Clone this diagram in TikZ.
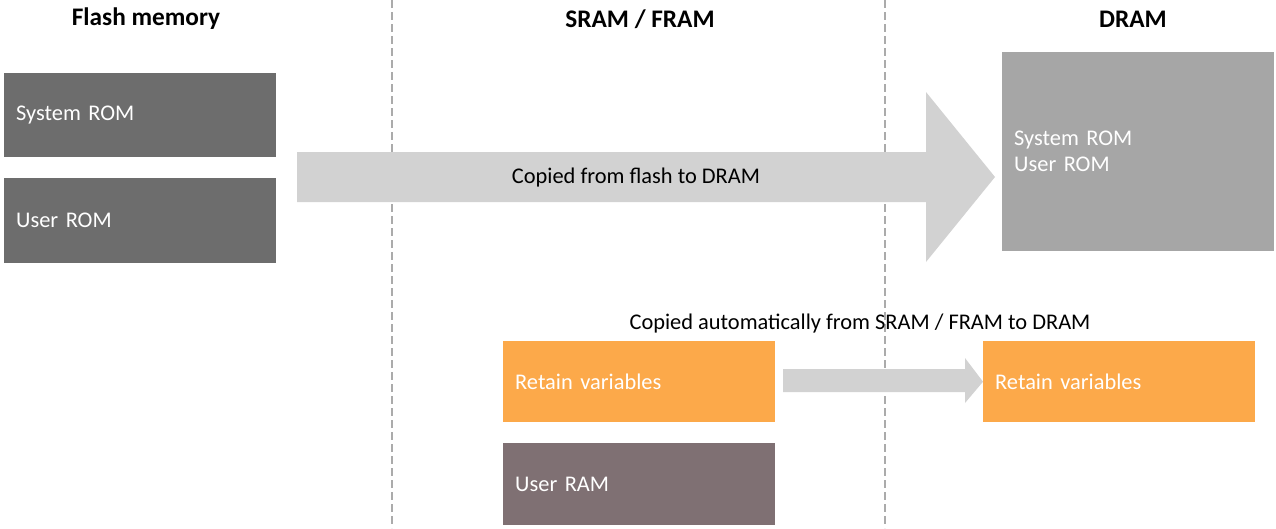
\documentclass[tikz,border=0pt]{standalone}
\usepackage{fontspec}
\setmainfont{Carlito}
\definecolor{flashgray}{HTML}{6D6D6D}
\definecolor{dramgray}{HTML}{A6A6A6}
\definecolor{arrowgray}{HTML}{D2D2D2}
\definecolor{retainorange}{HTML}{FCA94A}
\definecolor{userram}{HTML}{7F7073}
\definecolor{dashgray}{HTML}{ABABAB}
\begin{document}
\begin{tikzpicture}[x=1pt,y=-1pt,
  every node/.style={font=\fontsize{22.4}{26}\selectfont},
  membox/.style={draw=none, anchor=north west, inner xsep=12pt, inner ysep=0pt,
    text width=248pt, align=left, minimum width=272pt, text=white},
  header/.style={font=\fontsize{25.3}{28}\selectfont\bfseries},
  sep/.style={draw=dashgray, line width=1.2pt, dash pattern=on 8pt off 4pt},
  blockarrow/.style={fill=arrowgray, draw=none}]
\useasboundingbox (0,0) rectangle (1276,528);
% separators
\coordinate (s1top) at (392,0); \coordinate (s1bot) at (392,528);
\coordinate (s2top) at (885,0); \coordinate (s2bot) at (885,528);
\draw[sep] (s1top) -- (s1bot);
\draw[sep] (s2top) -- (s2bot);
% headers
\node[header] (hflash) at (146,19) {Flash memory};
\node[header] (hsram) at (640,19) {SRAM / FRAM};
\node[header] (hdram) at (1133,19) {DRAM};
% flash boxes
\node[membox, fill=flashgray, minimum height=84pt] (sysrom) at (4,73) {System ROM};
\node[membox, fill=flashgray, minimum height=85pt] (userrom) at (4,178) {User ROM};
% DRAM box
\node[membox, fill=dramgray, minimum height=199pt] (dram) at (1002,52) {System ROM\\User ROM};
% SRAM boxes
\node[membox, fill=retainorange, minimum height=81pt] (retain) at (503,341) {Retain variables};
\node[membox, fill=userram, minimum height=82pt] (uram) at (503,443) {User RAM};
\node[membox, fill=retainorange, minimum height=81pt, minimum width=272pt] (retaind) at (983,341) {Retain variables};
% big block arrow
\coordinate (bigtip) at ([xshift=-7pt]dram.west |- 0,177);
\fill[blockarrow] (297,152) -- (926,152) -- (926,92) -- (bigtip) -- (926,262) -- (926,202) -- (297,202) -- cycle;
\node (bigl) at (636,178) {Copied from flash to DRAM};
% small block arrow
\fill[blockarrow] (783,369) -- (965,369) -- (965,358) -- (retaind.west) -- (965,403) -- (965,392) -- (783,392) -- cycle;
\node (smalll) at (860,324) {Copied automatically from SRAM / FRAM to DRAM};
\end{tikzpicture}
\end{document}
